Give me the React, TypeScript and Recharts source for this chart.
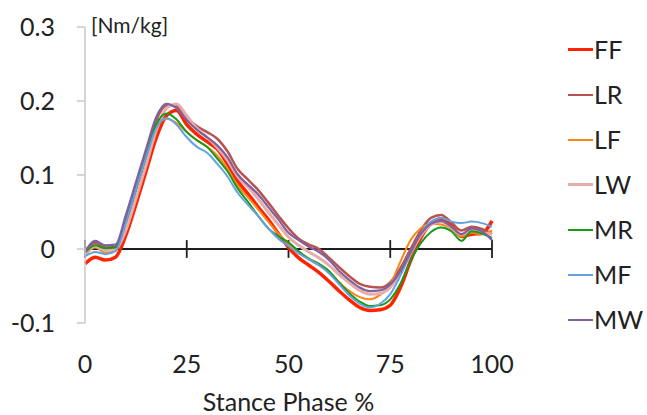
import React from "react";
import { LineChart, Line, XAxis, YAxis, ReferenceLine, Label } from "recharts";

const stance = [0,2.5,5,7.5,10,12.5,15,17.5,20,22.5,25,27.5,30,32.5,35,37.5,40,42.5,45,47.5,50,52.5,55,57.5,60,62.5,65,67.5,70,72.5,75,77.5,80,82.5,85,87.5,90,92.5,95,97.5,100];

const FF = [-0.02,-0.011,-0.015,-0.011,0.018,0.06,0.105,0.15,0.18,0.187,0.168,0.155,0.145,0.135,0.115,0.092,0.075,0.057,0.04,0.021,0.002,-0.012,-0.022,-0.032,-0.044,-0.057,-0.069,-0.079,-0.083,-0.082,-0.076,-0.052,-0.016,0.015,0.034,0.041,0.032,0.017,0.02,0.021,0.038];
const LR = [-0.003,0.008,0.002,0.003,0.04,0.085,0.13,0.174,0.194,0.193,0.178,0.166,0.158,0.149,0.132,0.108,0.094,0.08,0.063,0.045,0.028,0.014,0.006,0.0,-0.012,-0.025,-0.037,-0.047,-0.051,-0.052,-0.045,-0.026,0.0,0.025,0.042,0.046,0.036,0.025,0.03,0.027,0.02];
const LF = [-0.008,0.002,-0.005,-0.002,0.032,0.077,0.122,0.163,0.176,0.17,0.158,0.147,0.138,0.126,0.108,0.086,0.07,0.054,0.037,0.021,0.007,-0.004,-0.014,-0.022,-0.032,-0.045,-0.057,-0.065,-0.068,-0.062,-0.048,-0.017,0.012,0.028,0.034,0.033,0.027,0.017,0.022,0.02,0.025];
const LW = [-0.006,0.004,-0.002,0.0,0.025,0.068,0.113,0.16,0.19,0.196,0.18,0.163,0.151,0.137,0.12,0.098,0.084,0.068,0.05,0.033,0.016,0.005,-0.004,-0.012,-0.022,-0.035,-0.046,-0.056,-0.061,-0.06,-0.052,-0.032,-0.006,0.018,0.033,0.037,0.029,0.02,0.025,0.022,0.02];
const MR = [-0.005,0.005,0.001,0.002,0.036,0.08,0.125,0.168,0.183,0.175,0.158,0.147,0.138,0.122,0.105,0.082,0.064,0.045,0.028,0.017,0.009,-0.003,-0.013,-0.02,-0.03,-0.046,-0.06,-0.071,-0.077,-0.076,-0.068,-0.047,-0.016,0.008,0.023,0.029,0.024,0.011,0.024,0.021,0.015];
const MF = [-0.01,-0.004,-0.007,-0.003,0.035,0.08,0.124,0.163,0.177,0.168,0.151,0.138,0.13,0.115,0.098,0.076,0.06,0.045,0.028,0.014,0.004,-0.006,-0.014,-0.022,-0.033,-0.048,-0.063,-0.074,-0.079,-0.074,-0.061,-0.036,-0.006,0.021,0.037,0.042,0.037,0.035,0.037,0.035,0.03];
const MW = [-0.004,0.011,0.005,0.006,0.045,0.09,0.135,0.178,0.196,0.19,0.174,0.161,0.151,0.14,0.124,0.101,0.087,0.074,0.057,0.04,0.022,0.012,0.003,-0.004,-0.015,-0.03,-0.042,-0.052,-0.057,-0.056,-0.048,-0.03,-0.004,0.02,0.034,0.038,0.03,0.02,0.028,0.024,0.012];

const xTicks = [0, 25, 50, 75, 100];
const yTicks = [-0.1, 0, 0.1, 0.2, 0.3];
const seriesNames = ["FF", "LR", "LF", "LW", "MR", "MF", "MW"];
const seriesValues = [FF, LR, LF, LW, MR, MF, MW];
const seriesColors = ["#FF2400", "#B9534F", "#F7861C", "#E8ACAB", "#179A17", "#62A2E2", "#7E62A0"];
const seriesWidths = [3.5, 2.5, 2, 3, 2, 2, 2.2];

const data = stance.map((x, i) => {
  const row: any = { x };
  seriesNames.forEach((n, k) => { row[n] = seriesValues[k][i]; });
  return row;
});

const FONT = "Lato, 'Open Sans', sans-serif";
const TEXT = "#222222";

const LegendBox = () => (
  <div style={{ position: "absolute", left: 568, top: 27, fontFamily: FONT }}>
    {seriesNames.map((n, k) => (
      <div key={n} style={{ display: "flex", alignItems: "center", height: 45 }}>
        <div style={{ width: 25, height: seriesWidths[k] > 2.5 ? 3 : 2, background: seriesColors[k] }} />
        <span style={{ fontSize: 25, color: TEXT, marginLeft: 1, lineHeight: "45px" }}>{n}</span>
      </div>
    ))}
  </div>
);

export default function App() {
  return (
    <div style={{ width: 647, height: 415, position: "relative", background: "#fff" }}>
      <style>{`body{margin:0;background:#fff}`}</style>
      <LineChart width={647} height={415} data={data} margin={{ top: 27, right: 155, bottom: 0, left: 0 }}>
        <XAxis
          dataKey="x"
          type="number"
          domain={[0, 100]}
          ticks={xTicks}
          axisLine={false}
          tickLine={false}
          tickSize={0}
          tickMargin={32}
          height={92}
          tick={{ fontSize: 25, fill: TEXT, fontFamily: FONT }}
        >
          <Label value="Stance Phase %" position="insideBottom" offset={4} style={{ fontSize: 25, fill: TEXT, fontFamily: FONT }} />
        </XAxis>
        <YAxis
          type="number"
          domain={[-0.1, 0.3]}
          ticks={yTicks}
          width={85}
          tickSize={8}
          tickMargin={22}
          axisLine={{ stroke: "#C8C8C8", strokeWidth: 1.5 }}
          tickLine={{ stroke: "#C8C8C8", strokeWidth: 1.5 }}
          tickFormatter={(v: number) => (v === 0 ? "0" : String(v))}
          tick={{ fontSize: 25, fill: TEXT, fontFamily: FONT }}
        >
          <Label
            content={(props: any) => {
              const vb = props.viewBox || {};
              return (
                <text x={(vb.x || 0) + (vb.width || 0) + 6} y={33} fontSize={21} fill={TEXT} fontFamily={FONT}>
                  [Nm/kg]
                </text>
              );
            }}
          />
        </YAxis>
        <ReferenceLine y={0} stroke="#1E1E1E" strokeWidth={1.8} />
        {xTicks.map((t) => (
          <ReferenceLine
            key={"t" + t}
            segment={[{ x: t, y: -0.012 }, { x: t, y: 0.012 }]}
            stroke="#1E1E1E"
            strokeWidth={1.8}
          />
        ))}
        {seriesNames.map((n, k) => (
          <Line
            key={n}
            type="monotone"
            dataKey={n}
            stroke={seriesColors[k]}
            strokeWidth={seriesWidths[k]}
            dot={false}
            activeDot={false}
            isAnimationActive={false}
          />
        ))}
      </LineChart>
      <LegendBox />
    </div>
  );
}
